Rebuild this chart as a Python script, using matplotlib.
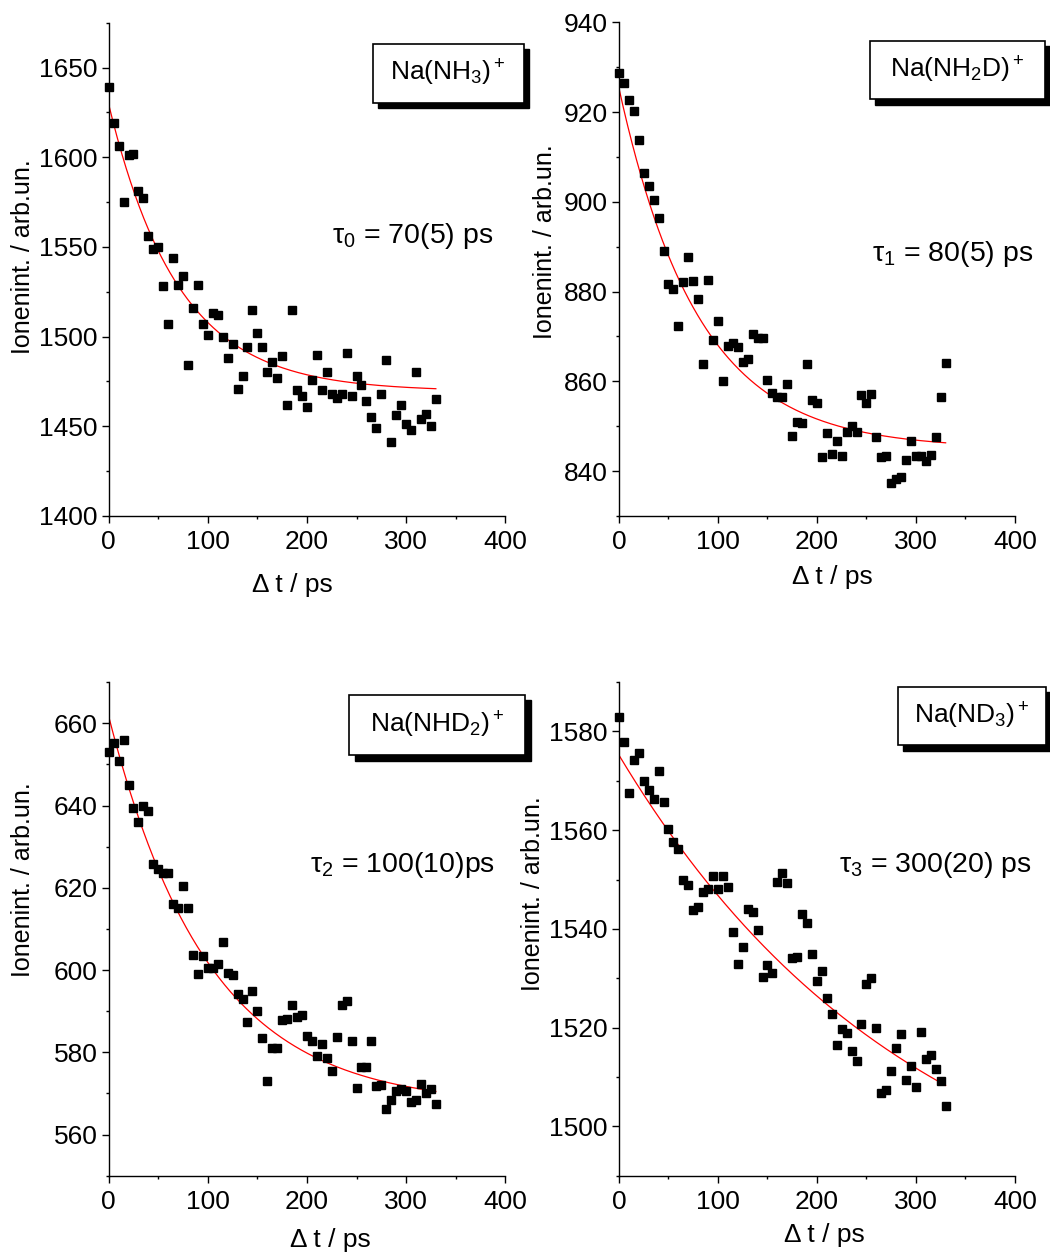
import numpy as np
import matplotlib.pyplot as plt
import matplotlib.transforms as mtransforms
from matplotlib.patches import Rectangle
from matplotlib.ticker import MultipleLocator

plt.rcParams['font.family'] = ['Liberation Sans', 'DejaVu Sans']
plt.rcParams['mathtext.fontset'] = 'custom'
plt.rcParams['mathtext.rm'] = 'Liberation Sans'
plt.rcParams['mathtext.it'] = 'Liberation Sans:italic'
plt.rcParams['mathtext.bf'] = 'Liberation Sans:bold'
plt.rcParams['mathtext.default'] = 'regular'

# pump-probe delay grid (ps), same for all four isotopologues
delay = [0, 5, 10, 15, 20, 25, 30, 35, 40, 45, 50, 55, 60, 65, 70, 75, 80,
         85, 90, 95, 100, 105, 110, 115, 120, 125, 130, 135, 140, 145, 150,
         155, 160, 165, 170, 175, 180, 185, 190, 195, 200, 205, 210, 215, 220,
         225, 230, 235, 240, 245, 250, 255, 260, 265, 270, 275, 280, 285, 290,
         295, 300, 305, 310, 315, 320, 325, 330]

# ion signal, Na(NH3)+
nh3 = [1639, 1619, 1606, 1575, 1601, 1602, 1581, 1577, 1556, 1549, 1550,
       1528, 1507, 1544, 1529, 1534, 1484, 1516, 1529, 1507, 1501, 1513,
       1512, 1500, 1488, 1496, 1471, 1478, 1494, 1515, 1502, 1494, 1480,
       1486, 1477, 1489, 1462, 1515, 1470, 1467, 1461, 1476, 1490, 1470,
       1480, 1468, 1466, 1468, 1491, 1467, 1478, 1473, 1464, 1455, 1449,
       1468, 1487, 1441, 1456, 1462, 1451, 1448, 1480, 1454, 1457, 1450,
       1465]

# ion signal, Na(NH2D)+
nh2d = [928.8, 926.5, 922.6, 920.2, 913.8, 906.4, 903.5, 900.4, 896.5, 889.0,
        881.6, 880.6, 872.4, 882.2, 887.6, 882.4, 878.3, 863.9, 882.6, 869.2,
        873.5, 860.1, 867.9, 868.5, 867.7, 864.4, 864.9, 870.6, 869.7, 869.7,
        860.3, 857.5, 856.4, 856.6, 859.4, 847.8, 850.9, 850.6, 863.9, 855.8,
        855.1, 843.2, 848.4, 843.7, 846.6, 843.3, 848.6, 850.0, 848.7, 857.0,
        855.2, 857.1, 847.6, 843.2, 843.3, 837.4, 838.3, 838.6, 842.5, 846.8,
        843.3, 843.3, 842.3, 843.6, 847.7, 856.5, 864.1]

# ion signal, Na(NHD2)+
nhd2 = [653.0, 655.2, 650.9, 656.0, 645.0, 639.3, 636.1, 639.9, 638.6, 625.8,
        624.6, 623.6, 623.6, 616.1, 615.0, 620.4, 615.0, 603.6, 599.0, 603.3,
        600.4, 600.4, 601.5, 606.8, 599.4, 598.9, 594.1, 592.9, 587.3, 594.9,
        590.1, 583.5, 573.0, 581.0, 581.0, 587.9, 588.1, 591.4, 588.5, 589.0,
        583.9, 582.8, 579.1, 582.0, 578.6, 575.5, 583.7, 591.4, 592.5, 582.8,
        571.4, 576.4, 576.5, 582.8, 571.7, 572.0, 566.3, 568.4, 570.6, 571.0,
        570.6, 567.9, 568.4, 572.3, 570.1, 571.0, 567.4]

# ion signal, Na(ND3)+
nd3 = [1582.9, 1577.9, 1567.5, 1574.3, 1575.6, 1569.9, 1568.1, 1566.4, 1572.0,
       1565.8, 1560.3, 1557.6, 1556.1, 1549.9, 1548.8, 1543.9, 1544.5, 1547.5,
       1548.0, 1550.7, 1548.0, 1550.8, 1548.4, 1539.3, 1532.8, 1536.3, 1544.0,
       1543.5, 1539.8, 1530.2, 1532.6, 1531.0, 1549.5, 1551.4, 1549.3, 1534.2,
       1534.4, 1543.0, 1541.1, 1534.9, 1529.5, 1531.4, 1526.0, 1522.8, 1516.4,
       1519.8, 1518.9, 1515.3, 1513.2, 1520.7, 1528.9, 1530.0, 1519.9, 1506.7,
       1507.4, 1511.3, 1515.8, 1518.8, 1509.3, 1512.2, 1508.0, 1519.2, 1513.6,
       1514.4, 1511.6, 1509.2, 1504.2]

# mono-exponential fits: offset, amplitude, tau (ps)
fit_offset = [1469.5, 845.0, 567.0, 1474.9]
fit_amp = [160.0, 80.3, 94.7, 100.3]
fit_tau = [70, 80, 100, 300]

labels = ['Na(NH$_3$)$^+$', 'Na(NH$_2$D)$^+$', 'Na(NHD$_2$)$^+$', 'Na(ND$_3$)$^+$']
tau_text = ['\u03c4$_0$ = 70(5) ps', '\u03c4$_1$ = 80(5) ps',
            '\u03c4$_2$ = 100(10)ps', '\u03c4$_3$ = 300(20) ps']
signals = [nh3, nh2d, nhd2, nd3]

ylims = [(1400, 1675), (830, 940), (550, 670), (1490, 1590)]
ymajor = [50, 20, 20, 20]

# axes rectangles [left, bottom, width, height]
rects = [[0.1035, 0.5879, 0.3777, 0.3940],
         [0.5895, 0.5879, 0.3771, 0.3943],
         [0.1035, 0.0609, 0.3777, 0.3943],
         [0.5895, 0.0609, 0.3771, 0.3943]]

# label box (x0, x1, y0, y1) in axes fraction
boxes = [(0.666, 1.046, 0.838, 0.957),
         (0.633, 1.077, 0.844, 0.963),
         (0.607, 1.050, 0.852, 0.974),
         (0.704, 1.079, 0.872, 0.991)]
tau_pos = [(0.969, 0.567), (1.047, 0.531), (0.974, 0.629), (1.042, 0.629)]
xlab_pos = [(0.462, -0.14), (0.538, -0.124), (0.558, -0.131), (0.52, -0.12)]
ylab_pos = [(-0.216, 0.525), (-0.187, 0.555), (-0.216, 0.599), (-0.217, 0.571)]

fig = plt.figure(figsize=(10.5, 12.52), dpi=100)

for i in range(4):
    ax = fig.add_axes(rects[i])
    ax.plot(delay, signals[i], 's', color='black', markersize=5.2, zorder=3,
            clip_on=False)

    t = np.linspace(0, 330, 300)
    fit = fit_offset[i] + fit_amp[i] * np.exp(-t / fit_tau[i])
    ax.plot(t, fit, color='red', linewidth=0.9, zorder=2)

    ax.set_xlim(0, 400)
    ax.set_ylim(*ylims[i])
    ax.xaxis.set_major_locator(MultipleLocator(100))
    ax.xaxis.set_minor_locator(MultipleLocator(50))
    ax.yaxis.set_major_locator(MultipleLocator(ymajor[i]))
    ax.yaxis.set_minor_locator(MultipleLocator(ymajor[i] / 2))

    for side in ['top', 'right']:
        ax.spines[side].set_visible(False)
    for side in ['left', 'bottom']:
        ax.spines[side].set_linewidth(1.0)
    ax.tick_params(which='major', direction='out', length=5, width=1.0,
                   labelsize=19)
    ax.tick_params(which='minor', direction='out', length=2.5, width=1.0)
    ax.tick_params(axis='x', pad=5)
    ax.tick_params(axis='y', pad=3)

    ax.set_xlabel('\u0394 t / ps', fontsize=19)
    ax.xaxis.set_label_coords(*xlab_pos[i])
    ax.xaxis.label.set_va('center')
    ax.set_ylabel('Ionenint. / arb.un.', fontsize=18)
    ax.yaxis.set_label_coords(*ylab_pos[i])
    ax.yaxis.label.set_va('center')

    # boxed species label with a hard black drop shadow
    x0, x1, y0, y1 = boxes[i]
    shadow_tr = mtransforms.offset_copy(ax.transAxes, fig=fig, x=5.5, y=-5.5,
                                        units='dots')
    ax.add_patch(Rectangle((x0, y0), x1 - x0, y1 - y0, transform=shadow_tr,
                           facecolor='black', edgecolor='black',
                           clip_on=False, zorder=5))
    ax.add_patch(Rectangle((x0, y0), x1 - x0, y1 - y0, transform=ax.transAxes,
                           facecolor='white', edgecolor='black',
                           linewidth=1.2, clip_on=False, zorder=6))
    ax.text((x0 + x1) / 2, (y0 + y1) / 2, labels[i], transform=ax.transAxes,
            ha='center', va='center', fontsize=19, zorder=7)

    ax.text(tau_pos[i][0], tau_pos[i][1], tau_text[i], transform=ax.transAxes,
            ha='right', va='center', fontsize=20.5, clip_on=False)

fig.savefig('out.png', dpi=100)
